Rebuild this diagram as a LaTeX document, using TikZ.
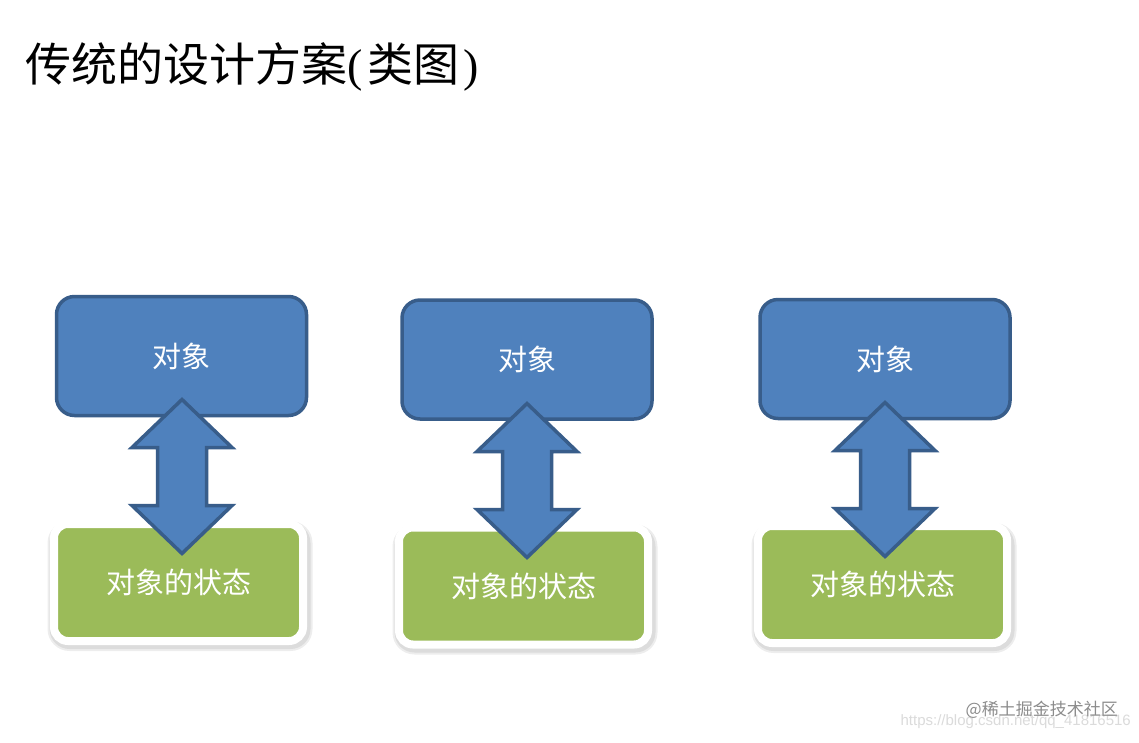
\documentclass[tikz,border=0pt]{standalone}
\usepackage{fontspec}
\newfontfamily\cjk{Noto Sans CJK SC}
\newfontfamily\tserif{Liberation Serif}
\newfontfamily\lsans{Liberation Sans}
\usetikzlibrary{calc}
\definecolor{bluefill}{HTML}{4F81BD}
\definecolor{blueedge}{HTML}{385D8A}
\definecolor{greenfill}{HTML}{9BBB59}
\begin{document}
\begin{tikzpicture}[x=1pt,y=-1pt,
  objbox/.style={rectangle, rounded corners=18pt, fill=bluefill, draw=blueedge, line width=3.5pt, minimum width=250pt, minimum height=119pt, inner sep=0pt, text=white, font=\cjk\fontsize{29}{29}\selectfont},
  statebox/.style={rectangle, rounded corners=14pt, fill=greenfill, draw=white, line width=8pt, minimum width=249pt, minimum height=117pt, inner sep=0pt, text=white, font=\cjk\fontsize{29}{29}\selectfont},
  shadowbox/.style={rectangle, rounded corners=20pt, fill=black, fill opacity=0.07, minimum width=261pt, minimum height=126pt, inner sep=0pt},
  dblarrow/.style={fill=bluefill, draw=blueedge, line width=3.5pt, line join=miter},
]
\fill[white] (0,0) rectangle (1139,742);
\useasboundingbox (0,0) rectangle (1139,742);

% title
\node[anchor=west, inner sep=0pt, font=\cjk\fontsize{46}{46}\selectfont] (title) at (25,67) {传统的设计方案{\tserif(}\hspace{5pt}类图\hspace{4pt}{\tserif)}};

% shadows under state boxes (two soft layers)
\foreach \n/\x/\y in {1/180/586, 2/525/589.5, 3/884/588}{
  \node[shadowbox] (sha\n) at (\x,\y) {};
  \node[shadowbox, minimum width=265pt, minimum height=130pt, rounded corners=22pt] (shb\n) at (\x,\y) {};
}

% state boxes
\node[statebox] (s1) at (178.5,582.5) {对象的状态};
\node[statebox] (s2) at (523.5,586) {对象的状态};
\node[statebox] (s3) at (882.5,584.5) {对象的状态};

% object boxes
\node[objbox] (o1) at (181.5,356) {对象};
\node[objbox] (o2) at (527,359.5) {对象};
\node[objbox] (o3) at (885,359) {对象};

% double arrows
\coordinate (c1) at (182,476.5);
\coordinate (c2) at (527,480.5);
\coordinate (c3) at (885,479.5);
\foreach \i in {1,2,3}{
  \draw[dblarrow, shift={(c\i)}] (0,-77) -- (50,-29) -- (24.5,-29) -- (24.5,29) -- (50,29) -- (0,77) -- (-50,29) -- (-24.5,29) -- (-24.5,-29) -- (-50,-29) -- cycle;
}

% watermark
\node[anchor=east, inner sep=0pt, text=black!14, font=\lsans\fontsize{15}{15}\selectfont] (url) at (1131,722) {https://blog.csdn.net/qq\_41816516};
\node[anchor=east, inner sep=0pt, text=black!45, font=\cjk\fontsize{17}{17}\selectfont] (wm) at (1118,710) {@稀土掘金技术社区};
\end{tikzpicture}
\end{document}
